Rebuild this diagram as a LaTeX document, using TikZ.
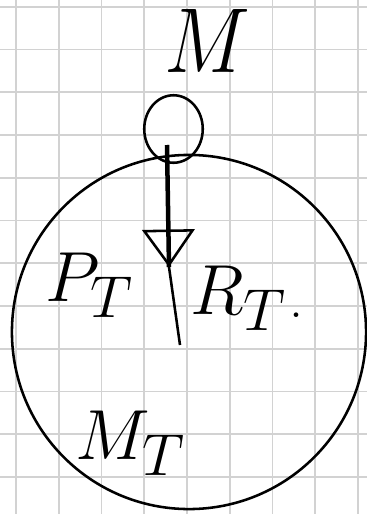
\documentclass[tikz,border=0pt]{standalone}
\usetikzlibrary{arrows.meta,positioning,shapes.geometric}
\newcommand{\sketchtext}[1]{\scalebox{1.9}{\fontsize{24.88}{30}\selectfont$#1$}}

\begin{document}
\begin{tikzpicture}[x=0.02342cm,y=-0.02342cm,
		pen/.style={line width=1.7pt,black},
		gridline/.style={line width=1.2pt,gray!35},
		hand/.style={inner sep=0pt}]
		
		\useasboundingbox (0,0) rectangle (367,514);
		\fill[white] (0,0) rectangle (367,514);
		
		% squared paper
		\foreach \k in {0,...,8}
		\draw[gridline] ({16+42.75*\k},0) -- ({16+42.75*\k},514);
		\foreach \k in {0,...,11}
		\draw[gridline] (0,{6.7+42.75*\k}) -- (367,{6.7+42.75*\k});
		
		\node[hand] (M) at (207,41)
		{\scalebox{1.15}[1.3]{\sketchtext{M}}};
		
		\node[draw,pen,ellipse,minimum width=39pt,minimum height=45pt] (loop)
		at (173.5,129) {};
		
		\node[draw,pen,circle,minimum size=236pt,inner sep=0pt] (space)
		at (189,332) {};
		
		\coordinate (start) at (167,145);
		\coordinate (apex) at (169,267);
		\coordinate (foot) at (180,345);
		
		\draw[pen,line width=3pt]
		(start)--(apex);
		
		\draw[pen,-{Triangle[open,length=25pt,width=35pt,line width=1.7pt]}]
		(start)--(apex);
		
		\draw[pen]
		(apex)--(foot);
		
		\node[hand] (PT) at (90,285)
		{\sketchtext{P_T}};
		
		\node[hand] (RT) at (239,298)
		{\sketchtext{R_T}};
		
		\node[font=\fontsize{24.88}{30}\selectfont,inner sep=0pt,scale=1.5] (mark) at (296,315)
		{.};
		
		\node[hand] (MT) at (131,443)
		{\sketchtext{M_T}};
		
	\end{tikzpicture}
\end{document}
